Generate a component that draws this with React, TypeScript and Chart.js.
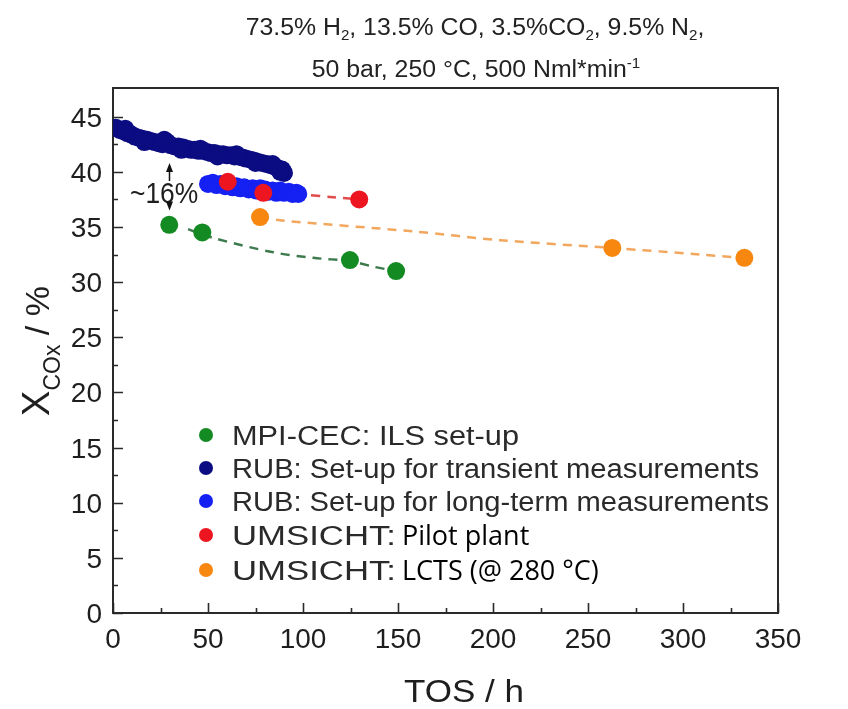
import React, { useEffect, useRef } from "react";
import { Chart, registerables } from "chart.js";
Chart.register(...registerables);

// ---------- data ----------
const mpiX = [29.6, 47.0, 124.7, 149.0];
const mpiY = [35.2, 34.5, 32.0, 31.0];

const rubTransX = [1.5, 3.5, 5.5, 7.5, 9.5, 11.5, 13.5, 15.5, 18, 20, 22, 24, 26, 28.5, 30.5, 32.5, 34.5, 37, 39, 41, 43, 45, 47.5, 49.5, 51.5, 53.5, 56, 58, 60, 62, 64, 66, 68, 70, 72.5, 74.5, 76.5, 78.5, 81, 83, 85, 87, 89, 90,
  6.5, 16.5, 27, 36, 46, 55, 65, 75, 84, 88];
const rubTransY = [44.0, 43.8, 43.7, 43.5, 43.4, 43.2, 43.1, 43.0, 42.9, 42.8, 42.7, 42.6, 42.5, 42.7, 42.4, 42.3, 42.3, 42.2, 42.1, 42.0, 42.0, 41.9, 41.9, 41.8, 41.7, 41.7, 41.6, 41.6, 41.5, 41.5, 41.4, 41.4, 41.3, 41.2, 41.1, 41.0, 40.9, 40.8, 40.7, 40.6, 40.5, 40.3, 40.2, 39.9,
  43.9, 42.7, 42.9, 42.0, 42.1, 41.4, 41.6, 40.8, 40.7, 40.0];

const rubLongX = [50, 52.5, 54.5, 56.5, 59, 61, 63, 65, 67, 69, 71.5, 73.5, 75.5, 77.5, 80, 82, 84, 86, 88, 90, 92.5, 94.5, 96.5, 97.5];
const rubLongY = [38.9, 39.0, 38.8, 38.9, 38.7, 38.8, 38.6, 38.7, 38.5, 38.6, 38.4, 38.5, 38.3, 38.5, 38.4, 38.2, 38.3, 38.1, 38.3, 38.1, 38.2, 38.0, 38.1, 38.0];

const pilotX = [60.4, 79.1, 129.6];
const pilotY = [39.1, 38.1, 37.5];

const lctsX = [77.4, 262.8, 332.3];
const lctsY = [35.9, 33.1, 32.2];

// dashed trend lines
const mpiFitX = [39.5, 52.8, 84.4, 105.4, 124.7, 137, 149];
const mpiFitY = [34.8, 34.0, 32.7, 32.2, 31.9, 31.4, 31.0];
const pilotFitX = [79.1, 101.9, 115.8, 129.6];
const pilotFitY = [38.1, 37.9, 37.7, 37.5];
const lctsFitX = [77.4, 87.9, 158, 203.7, 262.8, 309, 332.3];
const lctsFitY = [35.9, 35.6, 34.6, 33.8, 33.1, 32.5, 32.2];

const xTickValues = [0, 50, 100, 150, 200, 250, 300, 350];
const xTickLabels = ["0", "50", "100", "150", "200", "250", "300", "350"];
const yTickValues = [0, 5, 10, 15, 20, 25, 30, 35, 40, 45];
const yTickLabels = ["0", "5", "10", "15", "20", "25", "30", "35", "40", "45"];

const legendLabels = [
  "MPI-CEC: ILS set-up",
  "RUB: Set-up for transient measurements",
  "RUB: Set-up for long-term measurements",
  "UMSICHT:",
  "UMSICHT:",
];
const legendExtra = ["", "", "", "Pilot plant", "LCTS (@ 280 °C)"];

const C_GREEN = "#138a22";
const C_NAVY = "#0b0b82";
const C_BLUE = "#1520f2";
const C_RED = "#ec1520";
const C_ORANGE = "#f7870f";
const legendColors = [C_GREEN, C_NAVY, C_BLUE, C_RED, C_ORANGE];

const pts = (xs: number[], ys: number[]) => xs.map((x, i) => ({ x, y: ys[i] }));

const SANS = '"Liberation Sans", Arial, sans-serif';

type Seg = { t: string; size: number; dy?: number; family?: string; color?: string };

function rich(ctx: CanvasRenderingContext2D, segs: Seg[], x: number, y: number, align: string, sx: number, color: string) {
  ctx.save();
  ctx.translate(x, y);
  ctx.scale(sx, 1);
  let w = 0;
  for (const s of segs) {
    ctx.font = `${s.size}px ${s.family || SANS}`;
    w += ctx.measureText(s.t).width;
  }
  let cx = align === "center" ? -w / 2 : align === "right" ? -w : 0;
  ctx.textBaseline = "alphabetic";
  ctx.textAlign = "left";
  for (const s of segs) {
    ctx.font = `${s.size}px ${s.family || SANS}`;
    ctx.fillStyle = s.color || color;
    ctx.fillText(s.t, cx, s.dy || 0);
    cx += ctx.measureText(s.t).width;
  }
  ctx.restore();
}

// text fitted to the right end
function fitted(ctx: CanvasRenderingContext2D, t: string, x0: number, x1: number, y: number, size: number, color: string) {
  ctx.save();
  ctx.font = `${size}px ${SANS}`;
  const w = ctx.measureText(t).width;
  ctx.restore();
  rich(ctx, [{ t, size }], x0, y, "left", (x1 - x0) / w, color);
}

const decor = {
  id: "decor",
  beforeDatasetsDraw(chart: any) {
    const { ctx, chartArea: a, scales } = chart;
    const xs = scales.x, ys = scales.y;
    ctx.save();
    ctx.strokeStyle = "#2a2a2a";
    ctx.lineWidth = 2;
    ctx.strokeRect(a.left, a.top, a.right - a.left, a.bottom - a.top);
    ctx.lineWidth = 1.6;
    ctx.beginPath();
    for (let v = 0; v <= 45.01; v += 2.5) {
      const p = Math.round(ys.getPixelForValue(v)) + 0.5;
      const len = Math.abs(v % 5) < 0.01 ? 10 : 5;
      ctx.moveTo(a.left, p);
      ctx.lineTo(a.left + len, p);
    }
    for (let v = 0; v <= 350.01; v += 25) {
      const p = Math.round(xs.getPixelForValue(v)) + 0.5;
      const len = Math.abs(v % 50) < 0.01 ? 10 : 5;
      ctx.moveTo(p, a.bottom);
      ctx.lineTo(p, a.bottom - len);
    }
    ctx.stroke();
    ctx.restore();
  },
  afterDraw(chart: any) {
    const { ctx, chartArea: a, scales } = chart;
    const xs = scales.x, ys = scales.y;
    const col = "#1e1e1e";
    ctx.save();
    // tick labels
    xTickValues.forEach((v, i) => {
      rich(ctx, [{ t: xTickLabels[i], size: 28 }], xs.getPixelForValue(v), a.bottom + 35, "center", 1.0, col);
    });
    yTickValues.forEach((v, i) => {
      rich(ctx, [{ t: yTickLabels[i], size: 28 }], 102, ys.getPixelForValue(v) + 10, "right", 1.0, col);
    });
    // x title
    rich(ctx, [{ t: "TOS / h", size: 31 }], 464, 702, "center", 1.13, col);
    // y title (rotated)
    ctx.save();
    ctx.translate(49, 351);
    ctx.rotate(-Math.PI / 2);
    rich(ctx, [
      { t: "X", size: 38 },
      { t: "COx", size: 23, dy: 11 },
      { t: " / %", size: 34 },
    ], 0, 0, "center", 1.0, col);
    ctx.restore();
    // header
    rich(ctx, [
      { t: "73.5% H", size: 23 }, { t: "2", size: 14, dy: 5 },
      { t: ", 13.5% CO, 3.5%CO", size: 23 }, { t: "2", size: 14, dy: 5 },
      { t: ", 9.5% N", size: 23 }, { t: "2", size: 14, dy: 5 }, { t: ",", size: 23 },
    ], 475, 35, "center", 1.08, "#222");
    rich(ctx, [
      { t: "50 bar, 250 °C, 500 Nml*min", size: 23 }, { t: "-1", size: 14, dy: -9 },
    ], 476, 77, "center", 1.08, "#222");
    // legend
    const ly = [435, 468, 501, 535, 570];
    const lend = [519, 759, 769, 396, 396];
    legendLabels.forEach((lab, i) => {
      ctx.beginPath();
      ctx.fillStyle = legendColors[i];
      ctx.arc(206, ly[i], 7, 0, Math.PI * 2);
      ctx.fill();
      fitted(ctx, lab, 232, lend[i], ly[i] + 10, 27, "#2a2a2a");
      if (legendExtra[i]) {
        rich(ctx, [{ t: legendExtra[i], size: 27, family: '"Open Sans", sans-serif' }], 402, ly[i] + 10, "left", 1.0, "#000");
      }
    });
    // annotation ~16%
    const ax = Math.round(xs.getPixelForValue(mpiX[0])) + 0.5;
    rich(ctx, [{ t: "~16%", size: 30 }], 130, 203, "left", 0.88, col);
    ctx.strokeStyle = "#111";
    ctx.fillStyle = "#111";
    ctx.lineWidth = 1.5;
    const topTip = ys.getPixelForValue(40.8);
    const botTip = ys.getPixelForValue(36.5);
    ctx.beginPath();
    ctx.moveTo(ax, 181);
    ctx.lineTo(ax, topTip + 6);
    ctx.moveTo(ax, 204);
    ctx.lineTo(ax, botTip - 6);
    ctx.stroke();
    ctx.beginPath();
    ctx.moveTo(ax, topTip);
    ctx.lineTo(ax - 3.5, topTip + 9);
    ctx.lineTo(ax + 3.5, topTip + 9);
    ctx.closePath();
    ctx.moveTo(ax, botTip);
    ctx.lineTo(ax - 3.5, botTip - 9);
    ctx.lineTo(ax + 3.5, botTip - 9);
    ctx.closePath();
    ctx.fill();
    ctx.restore();
  },
};

export default function App() {
  const ref = useRef<HTMLCanvasElement | null>(null);
  useEffect(() => {
    if (!ref.current) return;
    const scat = (label: string, data: any, color: string, r: number, order: number) => ({
      type: "scatter" as const,
      label,
      data,
      backgroundColor: color,
      borderColor: color,
      borderWidth: 0,
      pointRadius: r,
      order,
      showLine: false,
    });
    const dash = (data: any, color: string, order: number) => ({
      type: "line" as const,
      label: "",
      data,
      borderColor: color,
      backgroundColor: color,
      borderWidth: 2.5,
      borderDash: [9, 7],
      pointRadius: 0,
      tension: 0.3,
      fill: false,
      order,
    });
    const chart = new Chart(ref.current, {
      type: "scatter",
      data: {
        datasets: [
          dash(pts(mpiFitX, mpiFitY), "#3d7a4e", 8),
          dash(pts(lctsFitX, lctsFitY), "#f2a75e", 7),
          dash(pts(pilotFitX, pilotFitY), "#e34b4b", 6),
          scat("MPI-CEC: ILS set-up", pts(mpiX, mpiY), C_GREEN, 9, 4),
          scat("UMSICHT: LCTS (@ 280 °C)", pts(lctsX, lctsY), C_ORANGE, 9, 3),
          scat("RUB: Set-up for transient measurements", pts(rubTransX, rubTransY), C_NAVY, 9, 2),
          scat("RUB: Set-up for long-term measurements", pts(rubLongX, rubLongY), C_BLUE, 9, 1),
          scat("UMSICHT: Pilot plant", pts(pilotX, pilotY), C_RED, 9, 0),
        ] as any,
      },
      options: {
        animation: false,
        responsive: false,
        maintainAspectRatio: false,
        devicePixelRatio: 1,
        events: [],
        layout: { padding: { left: 113, right: 70, top: 88, bottom: 96 } },
        plugins: { legend: { display: false }, tooltip: { enabled: false }, title: { display: false } },
        scales: {
          x: { type: "linear", min: 0, max: 350, display: false },
          y: { type: "linear", min: 0, max: 47.6, display: false },
        },
      },
      plugins: [decor],
    });
    return () => chart.destroy();
  }, []);
  return (
    <div style={{ position: "absolute", left: 0, top: 0, width: 848, height: 709, background: "#fff" }}>
      <canvas ref={ref} width={848} height={709} style={{ width: 848, height: 709, display: "block" }} />
    </div>
  );
}
